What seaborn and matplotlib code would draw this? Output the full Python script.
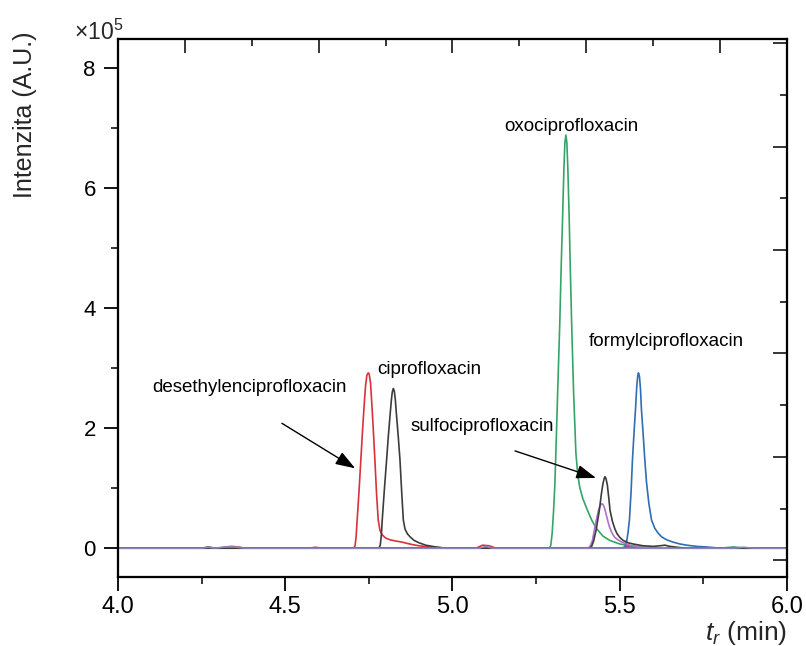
import numpy as np
import pandas as pd
import matplotlib
matplotlib.use("Agg")
import matplotlib.pyplot as plt
from matplotlib.ticker import MultipleLocator, NullFormatter
import seaborn as sns

# ---- data (intensity in units of 1e5 A.U., time in min) ----
base_t = [4.00, 4.25, 4.27, 4.29, 4.32, 4.35, 4.38, 5.08, 5.10, 5.12, 5.84, 5.87, 5.90, 6.00]
base_y = [0, 0, 0.015, 0, 0.02, 0.02, 0, 0, 0.03, 0, 0, 0.015, 0, 0]

red_t = [4.00, 4.30, 4.32, 4.34, 4.36, 4.38, 4.57, 4.59, 4.61, 4.705, 4.709, 4.712, 4.715,
         4.720, 4.726, 4.731, 4.735, 4.740, 4.744, 4.748, 4.751, 4.755, 4.760, 4.764, 4.768,
         4.773, 4.778, 4.783, 4.790, 4.800, 4.813, 4.830, 4.850, 4.864, 4.880, 4.900, 4.930,
         4.960, 4.980, 5.07, 5.09, 5.11, 5.13, 5.50, 5.53, 5.56, 6.00]
red_y = [0, 0, 0.02, 0.03, 0.02, 0, 0, 0.015, 0, 0, 0.05, 0.2, 0.47,
         0.9, 1.47, 1.95, 2.3, 2.7, 2.88, 2.92, 2.9, 2.75, 2.3, 1.9, 1.47,
         0.9, 0.47, 0.3, 0.22, 0.17, 0.14, 0.12, 0.10, 0.08, 0.06, 0.04, 0.02,
         0.01, 0, 0, 0.05, 0.04, 0, 0, 0.03, 0, 0]

cip_t = [4.00, 4.25, 4.27, 4.29, 4.780, 4.784, 4.787, 4.790, 4.796, 4.803, 4.808, 4.813,
         4.817, 4.820, 4.823, 4.826, 4.829, 4.833, 4.838, 4.843, 4.848, 4.853, 4.858, 4.865,
         4.873, 4.885, 4.900, 4.920, 4.950, 4.980, 6.00]
cip_y = [0, 0, 0.02, 0, 0, 0.05, 0.2, 0.47, 0.95, 1.47, 1.85, 2.19,
         2.45, 2.6, 2.66, 2.62, 2.48, 2.19, 1.85, 1.47, 0.95, 0.47, 0.32, 0.24,
         0.19, 0.13, 0.09, 0.05, 0.02, 0, 0]

oxo_t = [4.00, 5.290, 5.294, 5.298, 5.302, 5.306, 5.309, 5.315, 5.321, 5.325, 5.329, 5.333,
         5.336, 5.339, 5.342, 5.345, 5.349, 5.352, 5.356, 5.362, 5.369, 5.375, 5.381, 5.390,
         5.400, 5.416, 5.430, 5.450, 5.470, 5.500, 5.530, 5.560, 5.600, 5.80, 5.84, 5.88, 6.00]
oxo_y = [0, 0, 0.05, 0.25, 0.6, 1.05, 1.58, 2.7, 3.8, 4.7, 5.47, 6.3,
         6.75, 6.88, 6.75, 6.3, 5.47, 4.7, 3.8, 2.6, 1.58, 1.2, 1.0, 0.82,
         0.68, 0.47, 0.33, 0.2, 0.13, 0.07, 0.04, 0.02, 0, 0, 0.02, 0, 0]

sul_t = [4.00, 5.410, 5.416, 5.422, 5.430, 5.439, 5.445, 5.450, 5.454, 5.456, 5.459, 5.463,
         5.467, 5.471, 5.478, 5.485, 5.491, 5.500, 5.510, 5.525, 5.540, 5.570, 5.600, 5.620,
         5.635, 5.650, 5.680, 5.700, 6.00]
sul_y = [0, 0, 0.03, 0.12, 0.32, 0.63, 0.9, 1.08, 1.17, 1.19, 1.16, 1.05,
         0.85, 0.63, 0.45, 0.33, 0.25, 0.18, 0.13, 0.09, 0.07, 0.04, 0.03, 0.04,
         0.05, 0.03, 0.01, 0, 0]

pur_t = [4.00, 5.405, 5.411, 5.418, 5.426, 5.432, 5.437, 5.442, 5.446, 5.450, 5.455, 5.460,
         5.465, 5.469, 5.477, 5.485, 5.500, 5.515, 5.530, 5.560, 5.590, 6.00]
pur_y = [0, 0, 0.03, 0.12, 0.36, 0.52, 0.64, 0.71, 0.74, 0.73, 0.66, 0.55,
         0.44, 0.36, 0.25, 0.18, 0.12, 0.08, 0.05, 0.02, 0, 0]

for_t = [4.00, 5.510, 5.516, 5.521, 5.525, 5.529, 5.534, 5.538, 5.543, 5.547, 5.551, 5.554,
         5.556, 5.559, 5.562, 5.565, 5.570, 5.575, 5.580, 5.587, 5.595, 5.605, 5.615, 5.625,
         5.640, 5.660, 5.680, 5.700, 5.730, 5.760, 5.800, 6.00]
for_y = [0, 0, 0.03, 0.12, 0.27, 0.47, 0.95, 1.47, 1.95, 2.3, 2.7, 2.88,
         2.92, 2.86, 2.65, 2.3, 1.9, 1.47, 1.1, 0.75, 0.47, 0.33, 0.25, 0.19,
         0.14, 0.10, 0.07, 0.05, 0.03, 0.02, 0, 0]

labels = ["desethylenciprofloxacin", "ciprofloxacin", "oxociprofloxacin",
          "formylciprofloxacin", "sulfociprofloxacin"]
label_x = [4.392, 4.931, 5.354, 5.638, 5.090]
label_y = [2.67, 2.98, 7.02, 3.45, 2.03]

arrow_from = [(4.49, 2.08), (5.187, 1.62)]
arrow_to = [(4.709, 1.33), (5.429, 1.17)]

# ---- style ----
sns.set_theme(style="ticks")
plt.rcParams["font.family"] = ["Liberation Sans", "DejaVu Sans"]
plt.rcParams["mathtext.fontset"] = "custom"
plt.rcParams["mathtext.it"] = "Liberation Sans:italic"
plt.rcParams["mathtext.rm"] = "Liberation Sans"

fig = plt.figure(figsize=(8.06, 6.46), dpi=100)
ax = fig.add_axes([0.1464, 0.1068, 0.8300, 0.8328])

traces = [
    (red_t, red_y, "#d8323c"),
    (cip_t, cip_y, "#3c3c3c"),
    (oxo_t, oxo_y, "#35a466"),
    (for_t, for_y, "#2f6db4"),
    (pur_t, pur_y, "#b06fd2"),
    (sul_t, sul_y, "#3c3c3c"),
    (base_t, base_y, "#8a86b8"),
]
for t, y, c in traces:
    sns.lineplot(x=t, y=y, color=c, lw=1.2, ax=ax, sort=False, estimator=None)

ax.set_xlim(4.0, 6.0)
ax.set_ylim(-0.48, 8.48)
ax.xaxis.set_minor_locator(MultipleLocator(0.25))
ax.yaxis.set_minor_locator(MultipleLocator(1))
ax.set_xticks([4.0, 4.5, 5.0, 5.5, 6.0])
ax.set_xticklabels(["4.0", "4.5", "5.0", "5.5", "6.0"])
ax.set_yticks([0, 2, 4, 6, 8])
ax.set_yticklabels(["0", "2", "4", "6", "8"])
ax.tick_params(axis="both", which="major", direction="out", length=10, width=1.3,
               color="black", labelcolor="black")
ax.tick_params(axis="y", which="major", labelsize=16, pad=6)
ax.tick_params(axis="x", which="major", labelsize=17, pad=4)
ax.tick_params(axis="both", which="minor", direction="out", length=5, width=1.3)
for s in ax.spines.values():
    s.set_linewidth(1.5)
    s.set_color("black")
ax.set_xlabel("")
ax.set_ylabel("")

# mirrored axes (inward ticks, no labels)
ax2 = ax.twinx()
ax2.set_ylim(-0.161, 5.04)
ax2.yaxis.set_major_locator(MultipleLocator(1))
ax2.yaxis.set_minor_locator(MultipleLocator(0.5))
ax2.yaxis.set_major_formatter(NullFormatter())
ax2.tick_params(axis="y", which="major", direction="in", length=10, width=1.3)
ax2.tick_params(axis="y", which="minor", direction="in", length=5, width=1.3)
ax3 = ax.twiny()
ax3.set_xlim(4.0, 6.0)
ax3.xaxis.set_minor_locator(MultipleLocator(0.2))
ax3.set_xticks([4.2, 4.6, 5.0, 5.4, 5.8])
ax3.xaxis.set_major_formatter(NullFormatter())
ax3.tick_params(axis="x", which="major", direction="in", length=10, width=1.3)
ax3.tick_params(axis="x", which="minor", direction="in", length=5, width=1.3)
for a in (ax2, ax3):
    for s in a.spines.values():
        s.set_linewidth(1.5)
        s.set_color("black")

# annotations
for txt, x, y in zip(labels, label_x, label_y):
    ax.text(x, y, txt, ha="center", va="center", fontsize=13.5, color="black")
for (x0, y0), (x1, y1) in zip(arrow_from, arrow_to):
    ax.annotate("", xy=(x1, y1), xytext=(x0, y0),
                arrowprops=dict(arrowstyle="-|>,head_length=1.0,head_width=0.35",
                                color="black", lw=1.0, shrinkA=0, shrinkB=0))

ax.text(-0.066, 1.013, r"$\times$10$^{5}$", transform=ax.transAxes,
        ha="left", va="center", fontsize=16.5)
ax.text(-0.139, 0.86, "Intenzita (A.U.)", transform=ax.transAxes, rotation=90,
        ha="center", va="center", fontsize=18)
ax.text(1.0, -0.104, r"$t_r$ (min)", transform=ax.transAxes, ha="right",
        va="center", fontsize=19)

fig.savefig("out.png", dpi=100, facecolor="white")
